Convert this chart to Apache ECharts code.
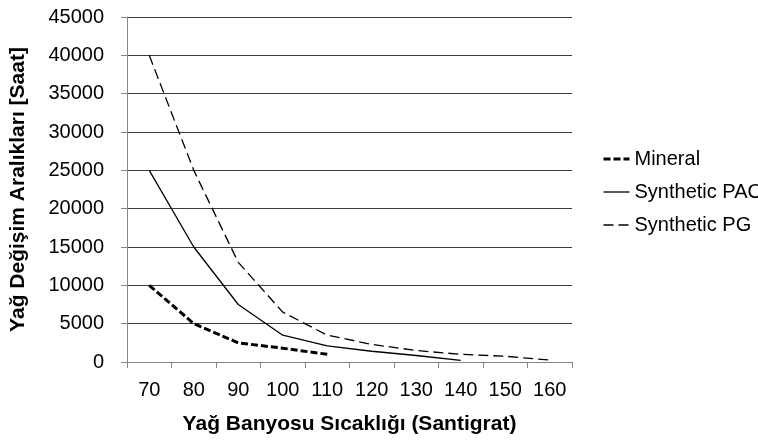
<!DOCTYPE html>
<html>
<head>
<meta charset="utf-8">
<script src="https://cdn.jsdelivr.net/npm/echarts@6/dist/echarts.min.js"></script>
<style>
html,body{margin:0;padding:0;background:#fff;}
#chart{width:758px;height:444px;}
</style>
</head>
<body>
<div id="chart"></div>
<script>
const categories = ['70','80','90','100','110','120','130','140','150','160'];
const mineral = [10000, 5000, 2500, 1800, 1000, null, null, null, null, null];
const syntheticPAO = [25000, 15000, 7500, 3500, 2100, 1400, 850, 200, null, null];
const syntheticPG = [40000, 25000, 13000, 6500, 3500, 2300, 1500, 1000, 750, 250];
const seriesNames = ['Mineral', 'Synthetic PAO', 'Synthetic PG'];

const FONT = '"Liberation Sans", Arial, sans-serif';
const lineStyles = [
  { color: '#000', width: 3, type: [7, 3] },
  { color: '#000', width: 1.3, type: 'solid' },
  { color: '#000', width: 1.3, type: [10, 5] }
];
const chart = echarts.init(document.getElementById('chart'));
chart.setOption({
  animation: false,
  backgroundColor: '#ffffff',
  textStyle: { fontFamily: FONT },
  grid: { left: 125, right: 186, top: 17, bottom: 82 },
  legend: {
    orient: 'vertical',
    left: 597,
    top: 144,
    itemWidth: 26,
    itemHeight: 12,
    itemGap: 13,
    itemStyle: { opacity: 0 },
    textStyle: { fontFamily: FONT, fontSize: 20, color: '#000' },
    data: seriesNames.map(function (n, i) { return { name: n, lineStyle: lineStyles[i] }; })
  },
  xAxis: {
    type: 'category',
    data: categories,
    boundaryGap: true,
    name: 'Yağ Banyosu Sıcaklığı (Santigrat)',
    nameLocation: 'middle',
    nameGap: 52,
    nameTextStyle: { fontFamily: FONT, fontSize: 21, fontWeight: 'bold', color: '#000' },
    axisLine: { lineStyle: { color: '#868686', width: 1 } },
    axisTick: { show: true, interval: 0, length: 6, lineStyle: { color: '#868686' } },
    axisLabel: { fontFamily: FONT, fontSize: 20, color: '#000', margin: 18, interval: 0 },
    splitLine: { show: false }
  },
  yAxis: {
    type: 'value',
    min: 0,
    max: 45000,
    interval: 5000,
    name: 'Yağ Değişim Aralıkları [Saat]',
    nameLocation: 'middle',
    nameGap: 98,
    nameTextStyle: { fontFamily: FONT, fontSize: 21, fontWeight: 'bold', color: '#000' },
    axisLine: { show: true, lineStyle: { color: '#868686', width: 1 } },
    axisTick: { show: true, length: 6, lineStyle: { color: '#868686' } },
    axisLabel: { fontFamily: FONT, fontSize: 20, color: '#000', margin: 23, formatter: function (v) { return String(v); } },
    splitLine: { show: true, lineStyle: { color: '#3a3a3a', width: 1 } }
  },
  series: [
    { name: seriesNames[0], type: 'line', data: mineral, symbol: 'none', lineStyle: lineStyles[0], itemStyle: { color: '#000' } },
    { name: seriesNames[1], type: 'line', data: syntheticPAO, symbol: 'none', lineStyle: lineStyles[1], itemStyle: { color: '#000' } },
    { name: seriesNames[2], type: 'line', data: syntheticPG, symbol: 'none', lineStyle: lineStyles[2], itemStyle: { color: '#000' } }
  ]
});
</script>
</body>
</html>
